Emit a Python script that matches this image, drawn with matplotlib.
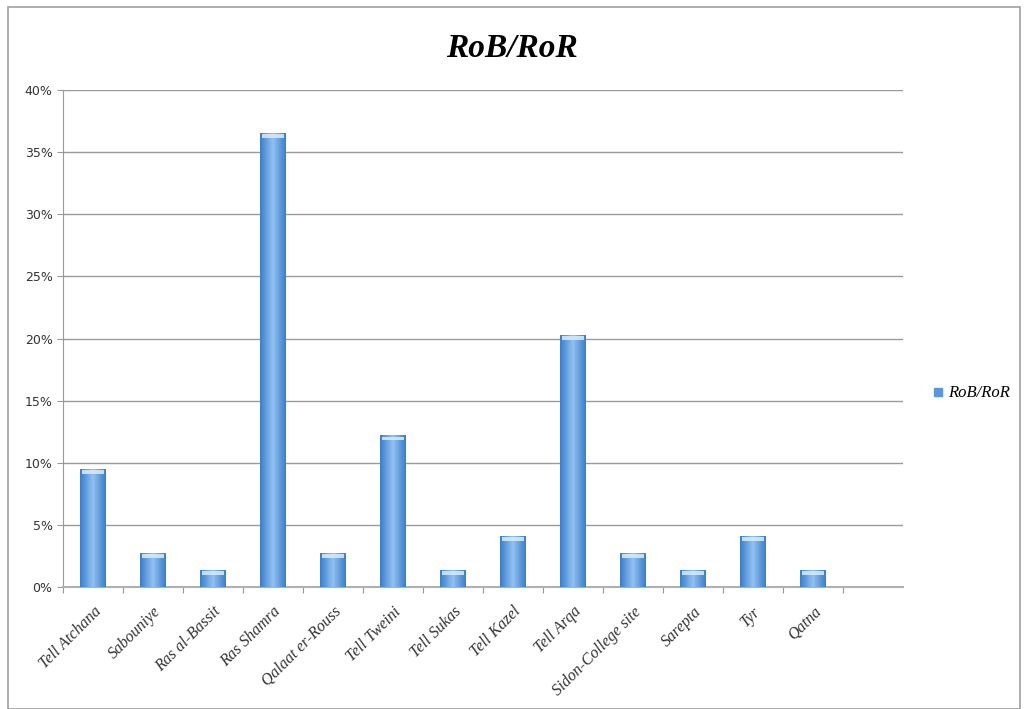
import numpy as np
import matplotlib
matplotlib.use("Agg")
import matplotlib.pyplot as plt
from matplotlib.colors import LinearSegmentedColormap
from matplotlib.patches import Rectangle
from matplotlib.lines import Line2D
from matplotlib.font_manager import FontProperties

sites = ["Tell Atchana", "Sabouniye", "Ras al-Bassit", "Ras Shamra", "Qalaat er-Rouss",
         "Tell Tweini", "Tell Sukas", "Tell Kazel", "Tell Arqa", "Sidon-College site",
         "Sarepta", "Tyr", "Qatna"]
# percent values
rob_ror = [9.46, 2.70, 1.35, 36.49, 2.70, 12.16, 1.35, 4.05, 20.27, 2.70, 1.35, 4.05, 1.35]
y_ticks = [0, 5, 10, 15, 20, 25, 30, 35, 40]
series_name = "RoB/RoR"

serif_it = FontProperties(family="Liberation Serif", style="italic", size=11.5)
title_font = FontProperties(family="Liberation Serif", style="italic", weight="bold", size=24)

fig = plt.figure(figsize=(10.25, 7.09), dpi=100)
fig.patch.set_facecolor("white")
# grey frame round the chart
fig.patches.append(Rectangle((0.008, 0.0), 0.987, 0.99, transform=fig.transFigure,
                             fill=False, edgecolor="#a0a0a0", linewidth=1.2))

ax = fig.add_axes([0.0615, 0.172, 0.8195, 0.701])

# gradient bars: darker edges, lighter middle
cmap = LinearSegmentedColormap.from_list("bar", ["#3a7ecb", "#92c2f1", "#3a7ecb"])
grad = np.tile(np.linspace(0, 1, 64), (32, 1))
width = 0.42
x = np.arange(len(sites))
for xi, v in zip(x, rob_ror):
    ax.imshow(grad, cmap=cmap, aspect="auto", extent=(xi - width / 2, xi + width / 2, 0, v),
              zorder=3, interpolation="bilinear")
    # light cap at top
    ax.add_patch(Rectangle((xi - width / 2 + 0.03, v - 0.35), width - 0.06, 0.3,
                           facecolor="#d8ecfc", edgecolor="none", zorder=4, alpha=0.85))

ax.set_xlim(-0.5, len(sites) + 0.5)
ax.set_ylim(0, 40)
ax.set_yticks(y_ticks)
ax.set_yticklabels([f"{t}%" for t in y_ticks], fontsize=9, color="#333333",
                   fontfamily="DejaVu Sans")
ax.yaxis.grid(True, color="#9a9a9a", linewidth=1.0, zorder=0)
ax.set_axisbelow(True)

ax.set_xticks(np.arange(len(sites) + 1) - 0.5, minor=False)
ax.set_xticklabels([])
ax.set_xticks(x, minor=True)
ax.set_xticklabels(sites, minor=True, rotation=45, ha="right", va="top",
                   fontproperties=serif_it, color="#333333", rotation_mode="anchor")
ax.tick_params(axis="x", which="minor", length=0, pad=12)
ax.tick_params(axis="x", which="major", length=4, color="#9a9a9a")
ax.tick_params(axis="y", length=4, color="#9a9a9a")

for side in ["top", "right"]:
    ax.spines[side].set_visible(False)
ax.spines["left"].set_color("#9a9a9a")
ax.spines["bottom"].set_color("#b0b0b0")
ax.spines["bottom"].set_linewidth(1.5)

fig.text(0.499, 0.932, series_name, ha="center", va="center", fontproperties=title_font)

handle = Line2D([], [], marker="s", linestyle="none", markersize=6,
                markerfacecolor="#5a97d8", markeredgecolor="#5a97d8")
leg_font = FontProperties(family="Liberation Serif", style="italic", size=12)
leg = fig.legend([handle], [series_name], loc="center left", bbox_to_anchor=(0.894, 0.445),
                 frameon=False, handletextpad=0.2, handlelength=0.8, prop=leg_font)

fig.savefig("out.png", dpi=100)
